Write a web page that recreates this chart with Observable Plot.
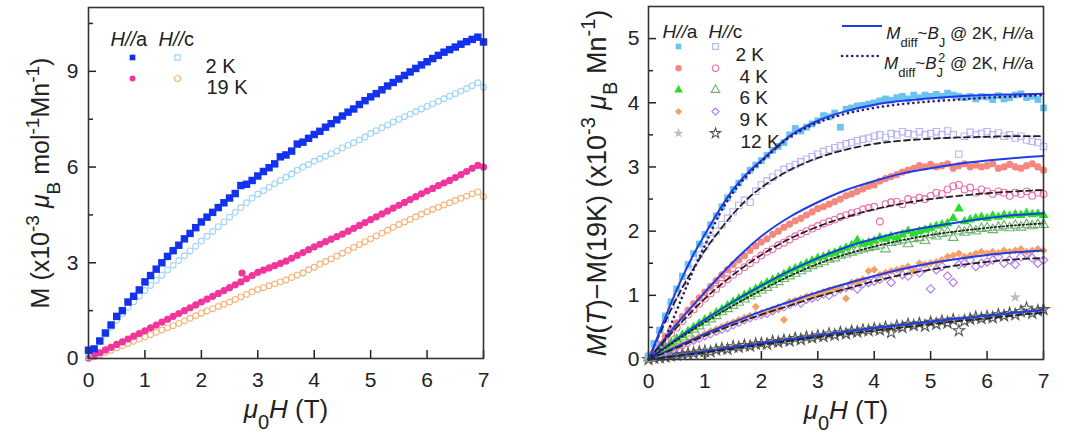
<!DOCTYPE html>
<html><head><meta charset="utf-8">
<script src="https://cdn.jsdelivr.net/npm/d3@7"></script>
<script src="https://cdn.jsdelivr.net/npm/@observablehq/plot@0.6"></script>
<style>
html,body{margin:0;padding:0;background:#fff;}
#wrap{display:flex;width:1080px;height:440px;overflow:hidden;}
svg{font-family:"Liberation Sans",Arial,Helvetica,sans-serif;}
</style></head><body><div id="wrap"></div>
<script>
const FONT = '"Liberation Sans", Arial, Helvetica, sans-serif';

// ---- shared field grids (T) ----
const fieldGrid = [0,0.1,0.2,0.3,0.4,0.5,0.6,0.7,0.8,0.9,
  1,1.1,1.2,1.3,1.4,1.5,1.6,1.7,1.8,1.9,
  2,2.1,2.2,2.3,2.4,2.5,2.6,2.7,2.8,2.9,
  3,3.1,3.2,3.3,3.4,3.5,3.6,3.7,3.8,3.9,
  4,4.1,4.2,4.3,4.4,4.5,4.6,4.7,4.8,4.9,
  5,5.1,5.2,5.3,5.4,5.5,5.6,5.7,5.8,5.9,
  6,6.1,6.2,6.3,6.4,6.5,6.6,6.7,6.8,6.9,
  7];
const fitGrid = [0,0.5,1,1.5,2,2.5,3,3.5,4,4.5,5,5.5,6,6.5,7];
const fitGridFine = [0,0.2,0.4,0.6,0.8,1,1.25,1.5,1.75,2,2.5,3,3.5,4,4.5,5,5.5,6,6.5,7];

// ---- tick values ----
const xTicks = [0,1,2,3,4,5,6,7];
const leftYTicks = [0,3,6,9];
const leftYMinor = [1.5,4.5,7.5,10.5];
const rightYTicks = [0,1,2,3,4,5];
const rightYMinor = [0.5,1.5,2.5,3.5,4.5];

// ---- left panel: M (x10^-3 muB mol^-1 Mn^-1) ----
const mA2K = [0.26,0.3,0.55,0.8,1.05,1.32,1.5,1.77,1.95,2.15,
  2.4,2.6,2.8,3.0,3.2,3.38,3.55,3.75,3.92,4.1,
  4.28,4.43,4.58,4.73,4.88,5.03,5.17,5.42,5.46,5.58,
  5.72,5.86,5.98,6.1,6.32,6.38,6.5,6.72,6.78,6.9,
  7.02,7.12,7.25,7.36,7.48,7.6,7.72,7.82,7.96,8.08,
  8.2,8.3,8.42,8.54,8.65,8.76,8.87,8.98,9.09,9.2,
  9.3,9.4,9.5,9.6,9.68,9.76,9.85,9.93,10.0,10.07,
  9.92];
const mC2K = [0.05,0.28,0.52,0.76,0.98,1.2,1.4,1.6,1.78,1.96,
  2.13,2.29,2.45,2.61,2.77,2.92,3.07,3.22,3.37,3.52,
  3.68,3.83,3.98,4.13,4.28,4.43,4.58,4.73,4.88,5.02,
  5.15,5.26,5.37,5.48,5.58,5.68,5.78,5.9,6.0,6.08,
  6.18,6.26,6.34,6.42,6.5,6.6,6.68,6.76,6.85,6.94,
  7.05,7.14,7.23,7.32,7.41,7.5,7.58,7.66,7.74,7.82,
  7.9,7.98,8.06,8.14,8.22,8.3,8.38,8.46,8.55,8.64,
  8.5];
const mA19K = [0.02,0.1,0.18,0.27,0.35,0.44,0.52,0.61,0.7,0.78,
  0.87,0.96,1.05,1.14,1.23,1.32,1.41,1.5,1.59,1.68,
  1.77,1.86,1.95,2.04,2.13,2.22,2.31,2.4,2.5,2.6,
  2.7,2.77,2.84,2.91,2.98,3.05,3.14,3.23,3.32,3.41,
  3.5,3.58,3.66,3.74,3.82,3.9,3.99,4.08,4.17,4.26,
  4.35,4.44,4.53,4.62,4.71,4.8,4.89,4.98,5.07,5.16,
  5.25,5.33,5.42,5.5,5.58,5.67,5.76,5.86,5.96,6.05,
  6.0];
const mA19KExtraX = [2.72];
const mA19KExtraY = [2.68];
const mC19K = [0.0,0.05,0.12,0.19,0.26,0.33,0.4,0.47,0.54,0.61,
  0.68,0.75,0.82,0.89,0.96,1.03,1.1,1.18,1.26,1.34,
  1.42,1.49,1.56,1.63,1.7,1.77,1.85,1.93,2.01,2.09,
  2.16,2.22,2.28,2.34,2.4,2.46,2.54,2.61,2.68,2.78,
  2.86,2.96,3.04,3.12,3.21,3.3,3.39,3.48,3.57,3.66,
  3.75,3.84,3.93,4.02,4.11,4.2,4.28,4.36,4.44,4.52,
  4.6,4.67,4.74,4.81,4.88,4.95,5.02,5.09,5.16,5.22,
  5.07];

// ---- right panel: M(T) - M(19K) ----
const d2a = [0.05,0.25,0.46,0.68,0.9,1.1,1.3,1.48,1.65,1.8,
  1.95,2.1,2.24,2.38,2.52,2.65,2.75,2.85,2.95,3.03,
  3.1,3.18,3.26,3.32,3.38,3.5,3.6,3.56,3.62,3.67,
  3.72,3.8,3.78,3.84,3.62,3.9,3.92,3.95,3.96,3.98,
  4.0,4.03,4.06,4.04,4.08,4.1,4.06,4.12,4.08,4.12,
  4.1,4.13,4.1,4.15,4.12,4.1,4.08,4.1,4.06,4.1,
  4.09,4.05,4.11,4.06,4.08,4.12,4.14,4.08,4.1,4.05,
  3.92];
const d2c = [0.05,0.24,0.45,0.64,0.84,1.02,1.2,1.36,1.5,1.63,
  1.76,1.88,2.0,2.1,2.2,2.3,2.4,2.48,2.45,2.62,
  2.72,2.78,2.84,2.9,2.96,3.0,3.04,3.08,3.12,3.16,
  3.2,3.24,3.27,3.3,3.33,3.36,3.38,3.41,3.43,3.45,
  3.48,3.5,3.46,3.52,3.5,3.55,3.52,3.5,3.55,3.5,
  3.52,3.55,3.5,3.56,3.5,3.2,3.48,3.54,3.5,3.52,
  3.55,3.5,3.53,3.48,3.5,3.45,3.48,3.42,3.4,3.38,
  3.32];
const d4a = [0.03,0.12,0.24,0.36,0.47,0.57,0.67,0.77,0.87,0.96,
  1.05,1.14,1.23,1.32,1.4,1.48,1.55,1.62,1.7,1.77,
  1.83,1.88,1.95,2.0,2.06,2.11,2.16,2.2,2.25,2.3,
  2.35,2.38,2.42,2.46,2.5,2.55,2.58,2.62,2.66,2.7,
  2.72,2.78,2.82,2.85,2.88,2.92,2.95,2.98,3.02,3.0,
  3.04,3.0,3.02,3.05,2.98,3.02,3.05,3.0,3.03,3.0,
  3.02,3.05,2.98,3.0,3.04,3.0,2.98,3.02,3.05,3.0,
  2.95];
const d4c = [0.03,0.1,0.2,0.3,0.4,0.5,0.6,0.7,0.78,0.87,
  0.95,1.03,1.1,1.18,1.25,1.32,1.38,1.44,1.5,1.56,
  1.62,1.68,1.72,1.78,1.82,1.87,1.92,1.96,2.0,2.04,
  2.08,2.12,2.15,2.18,2.22,2.25,2.28,2.3,2.34,2.36,
  2.38,2.15,2.42,2.45,2.46,2.42,2.5,2.48,2.52,2.5,
  2.55,2.6,2.58,2.65,2.7,2.72,2.65,2.68,2.6,2.65,
  2.62,2.58,2.62,2.6,2.55,2.6,2.58,2.62,2.55,2.6,
  2.58];
const d6a = [0.02,0.07,0.13,0.2,0.26,0.32,0.38,0.44,0.5,0.56,
  0.62,0.67,0.73,0.78,0.84,0.9,0.95,1.0,1.05,1.1,
  1.15,1.2,1.24,1.28,1.33,1.38,1.42,1.46,1.5,1.54,
  1.58,1.6,1.64,1.66,1.7,1.74,1.78,1.86,1.8,1.82,
  1.85,1.9,1.88,1.92,1.9,1.95,2.0,1.96,2.0,2.02,
  2.05,2.08,2.1,2.12,2.2,2.35,2.15,2.18,2.2,2.22,
  2.2,2.24,2.22,2.25,2.24,2.26,2.25,2.28,2.26,2.27,
  2.25];
const d6c = [0.02,0.06,0.12,0.18,0.24,0.3,0.36,0.41,0.47,0.52,
  0.58,0.63,0.68,0.74,0.79,0.84,0.89,0.94,0.99,1.03,
  1.08,1.12,1.17,1.21,1.26,1.3,1.34,1.38,1.42,1.46,
  1.49,1.52,1.56,1.58,1.62,1.64,1.67,1.7,1.72,1.74,
  1.76,1.78,1.72,1.82,1.84,1.86,1.8,1.88,1.9,1.85,
  1.94,1.92,1.96,1.98,1.9,2.0,1.98,2.02,2.0,2.04,
  2.05,2.02,2.06,2.08,2.05,2.09,2.06,2.1,2.08,2.1,
  2.1];
const d9a = [0.02,0.05,0.09,0.13,0.17,0.2,0.24,0.28,0.32,0.36,
  0.4,0.44,0.47,0.51,0.55,0.58,0.62,0.65,0.68,0.82,
  0.72,0.75,0.78,0.8,0.62,0.9,0.92,0.95,0.98,1.0,
  1.02,1.05,1.08,1.1,1.12,0.95,1.2,1.22,1.25,1.38,
  1.4,1.32,1.35,1.38,1.4,1.42,1.45,1.38,1.5,1.48,
  1.5,1.52,1.55,1.6,1.62,1.65,1.6,1.62,1.65,1.68,
  1.65,1.68,1.66,1.7,1.68,1.7,1.72,1.68,1.7,1.72,
  1.7];
const d9c = [0.02,0.05,0.08,0.12,0.15,0.19,0.22,0.26,0.3,0.33,
  0.37,0.4,0.44,0.47,0.5,0.54,0.58,0.62,0.65,0.68,
  0.7,0.72,0.76,0.8,0.82,0.86,0.9,0.88,0.94,0.96,
  0.98,1.02,1.0,1.05,1.1,1.12,1.15,1.1,1.18,1.2,
  1.22,1.25,1.3,1.2,1.35,1.32,1.3,1.4,1.35,1.42,
  1.1,1.4,1.45,1.3,1.2,1.48,1.5,1.55,1.45,1.5,
  1.52,1.55,1.6,1.5,1.55,1.48,1.6,1.65,1.58,1.5,
  1.55];
const d12a = [0.0,0.01,0.03,0.04,0.04,0.06,0.08,0.09,0.09,0.11,
  0.12,0.14,0.14,0.16,0.18,0.18,0.2,0.22,0.21,0.24,
  0.25,0.26,0.28,0.27,0.3,0.31,0.32,0.34,0.33,0.36,
  0.37,0.38,0.37,0.41,0.42,0.41,0.44,0.45,0.44,0.47,
  0.48,0.5,0.49,0.52,0.51,0.54,0.55,0.53,0.57,0.56,
  0.58,0.6,0.59,0.62,0.6,0.63,0.65,0.63,0.66,0.67,
  0.66,0.69,0.68,0.71,0.7,0.97,0.72,0.74,0.73,0.76,
  0.78];
const d12c = [0.0,0.02,0.03,0.04,0.06,0.07,0.08,0.09,0.1,0.12,
  0.13,0.12,0.15,0.17,0.16,0.2,0.19,0.22,0.21,0.24,
  0.25,0.24,0.28,0.27,0.3,0.29,0.33,0.31,0.35,0.34,
  0.37,0.36,0.4,0.38,0.42,0.4,0.44,0.43,0.46,0.45,
  0.48,0.46,0.5,0.42,0.52,0.5,0.55,0.53,0.56,0.52,
  0.58,0.55,0.6,0.57,0.62,0.45,0.6,0.63,0.66,0.64,
  0.67,0.65,0.7,0.68,0.72,0.7,0.75,0.8,0.72,0.76,
  0.78];

// ---- fits ----
const fit2aBJ  = [0,0.44,0.88,1.28,1.64,1.95,2.32,2.65,2.9,3.1,3.48,3.72,3.87,3.97,4.03,4.07,4.1,4.12,4.13,4.14];
const fit2aBJ2 = [0,0.15,0.55,0.98,1.4,1.78,2.25,2.6,2.87,3.08,3.46,3.69,3.83,3.92,3.98,4.02,4.05,4.08,4.1,4.12];
const fit2c    = [0,0.4,0.78,1.12,1.42,1.7,2.0,2.27,2.5,2.68,2.95,3.14,3.27,3.36,3.41,3.44,3.46,3.47,3.48,3.48];
const fit4a  = [0,0.55,1.05,1.52,1.92,2.22,2.45,2.64,2.78,2.9,2.98,3.05,3.1,3.14,3.17];
const fit4c  = [0,0.5,0.95,1.32,1.63,1.88,2.07,2.22,2.34,2.43,2.5,2.55,2.59,2.62,2.64];
const fit6a  = [0,0.32,0.62,0.9,1.15,1.38,1.58,1.75,1.88,1.99,2.07,2.14,2.2,2.25,2.28];
const fit6c  = [0,0.3,0.58,0.84,1.08,1.3,1.49,1.64,1.76,1.86,1.94,2.0,2.05,2.09,2.12];
const fit9a  = [0,0.2,0.4,0.58,0.75,0.9,1.05,1.18,1.3,1.41,1.5,1.57,1.63,1.67,1.7];
const fit9c  = [0,0.18,0.37,0.54,0.7,0.84,0.98,1.1,1.22,1.32,1.4,1.47,1.52,1.56,1.58];
const fit12a = [0,0.06,0.12,0.19,0.25,0.31,0.37,0.43,0.49,0.54,0.59,0.64,0.68,0.73,0.77];
const fit12c = [0,0.055,0.11,0.17,0.23,0.29,0.35,0.4,0.45,0.5,0.55,0.6,0.64,0.69,0.73];

// ---- legend labels ----
const legendHeads = ["H//a", "H//c"];
const leftLegendTemps = ["2 K", "19 K"];
const rightLegendTemps = ["2 K", "4 K", "6 K", "9 K", "12 K"];
const fitLegend = ["Mdiff~BJ @ 2K, H//a", "Mdiff~BJ2 @ 2K, H//a"];

const zip = (xs, ys) => ys.map((y, i) => ({x: xs[i], y}));
const intFmt = d3.format("d");
const axisStyle = {strokeWidth: 1.5, fontSize: 21, label: null};

// ================= LEFT PANEL =================
const lc = {a2: "#1232ee", c2: "#9fd4f7", a19: "#f0359c", c19: "#f6b47c"};
const left = Plot.plot({
  width: 540, height: 440,
  marginLeft: 88, marginRight: 57, marginTop: 7, marginBottom: 82,
  style: {fontFamily: FONT, fontSize: "21px", color: "#222", background: "#fff", overflow: "visible"},
  x: {domain: [0, 7], label: null},
  y: {domain: [0, 11], label: null},
  marks: [
    Plot.axisX(xTicks, {...axisStyle, tickSize: -8, tickPadding: 22, tickFormat: intFmt}),
    Plot.axisY(leftYTicks, {...axisStyle, tickSize: -8, tickPadding: 18, tickFormat: intFmt}),
    Plot.axisY(leftYMinor, {...axisStyle, tickSize: -5, tickFormat: () => ""}),
    Plot.dot(zip(fieldGrid, mC19K), {x: "x", y: "y", symbol: "circle", stroke: lc.c19, strokeWidth: 1.1, r: 2.9}),
    Plot.dot(zip(fieldGrid, mA19K), {x: "x", y: "y", symbol: "circle", fill: lc.a19, r: 3.6}),
    Plot.dot(zip(mA19KExtraX, mA19KExtraY), {x: "x", y: "y", symbol: "circle", fill: lc.a19, r: 3.6}),
    Plot.dot(zip(fieldGrid, mC2K), {x: "x", y: "y", symbol: "circle", stroke: lc.c2, strokeWidth: 1.1, r: 2.9}),
    Plot.dot(zip(fieldGrid, mA2K), {x: "x", y: "y", symbol: "square", fill: lc.a2, r: 4.2}),
    Plot.frame({stroke: "#333", strokeWidth: 1.6}),
    // legend
    Plot.text([legendHeads[0]], {frameAnchor: "top-left", dx: 22, dy: 24, textAnchor: "start", fontSize: 20, fill: "#222", text: d => d}),
    Plot.text([legendHeads[1]], {frameAnchor: "top-left", dx: 70, dy: 24, textAnchor: "start", fontSize: 20, fill: "#222", text: d => d}),
    Plot.dot([0], {frameAnchor: "top-left", dx: 44, dy: 50, symbol: "square", fill: lc.a2, r: 3.2}),
    Plot.dot([0], {frameAnchor: "top-left", dx: 89, dy: 50, symbol: "square", stroke: lc.c2, strokeWidth: 1.2, r: 3}),
    Plot.dot([0], {frameAnchor: "top-left", dx: 44, dy: 71, symbol: "circle", fill: lc.a19, r: 3}),
    Plot.dot([0], {frameAnchor: "top-left", dx: 89, dy: 71, symbol: "circle", stroke: lc.c19, strokeWidth: 1.2, r: 3}),
    Plot.text([leftLegendTemps[0]], {frameAnchor: "top-left", dx: 117, dy: 51, textAnchor: "start", fontSize: 20, fill: "#222", text: d => d}),
    Plot.text([leftLegendTemps[1]], {frameAnchor: "top-left", dx: 118, dy: 72, textAnchor: "start", fontSize: 20, fill: "#222", text: d => d}),
    // axis titles
    Plot.text(["M (x10-3 μB mol-1Mn-1)"], {frameAnchor: "left", dx: -48, rotate: -90, textAnchor: "middle", fontSize: 25, fill: "#222", text: d => d}),
    Plot.text(["μ0H (T)"], {frameAnchor: "bottom", dy: 59, textAnchor: "middle", fontSize: 26, fill: "#222", text: d => d})
  ]
});

// ================= RIGHT PANEL =================
const rc = {
  a2: "#6cc3f1", c2: "#b7b6f2", a4: "#f4877e", c4: "#ef6aa8",
  a6: "#24e024", c6: "#6db56d", a9: "#f7a066", c9: "#b277f0",
  a12: "#bdbdbd", c12: "#555555", fitA: "#1d3ee6", fitSq: "#3a1870", fitC: "#222222"
};
const dataMark = (ys, symbol, color, filled, r) =>
  Plot.dot(zip(fieldGrid, ys), filled
    ? {x: "x", y: "y", symbol, fill: color, r}
    : {x: "x", y: "y", symbol, stroke: color, strokeWidth: 1.1, r});
const fitLine = (xs, ys, style) => Plot.line(zip(xs, ys), {x: "x", y: "y", curve: "monotone-x", ...style});
const solid = {stroke: rc.fitA, strokeWidth: 2};
const dashed = {stroke: rc.fitC, strokeWidth: 1.8, strokeDasharray: "6,4"};
const dottedBlack = {stroke: rc.fitC, strokeWidth: 1.8, strokeDasharray: "1.5,2.5"};
const dottedPurple = {stroke: rc.fitSq, strokeWidth: 2.6, strokeDasharray: "0.1,5", strokeLinecap: "round"};

const legendRows = [
  {sa: "square", ca: rc.a2, sc: "square", cc: rc.c2},
  {sa: "circle", ca: rc.a4, sc: "circle", cc: rc.c4},
  {sa: "triangle", ca: rc.a6, sc: "triangle", cc: rc.c6},
  {sa: "diamond2", ca: rc.a9, sc: "diamond2", cc: rc.c9},
  {sa: "star", ca: rc.a12, sc: "star", cc: rc.c12}
];
const rightLegendMarks = [];
legendRows.forEach((row, i) => {
  const dy = 40 + i * 21.7;
  rightLegendMarks.push(Plot.dot([0], {frameAnchor: "top-left", dx: 30, dy, symbol: row.sa, fill: row.ca, r: 3.2}));
  rightLegendMarks.push(Plot.dot([0], {frameAnchor: "top-left", dx: 67, dy, symbol: row.sc, stroke: row.cc, strokeWidth: 1.1, r: 3.2}));
  rightLegendMarks.push(Plot.text([rightLegendTemps[i]], {frameAnchor: "top-left", dx: i === 0 ? 87 : (i === 4 ? 92 : 91), dy: dy + 1, textAnchor: "start", fontSize: 19, fill: "#222", text: d => d}));
});

const right = Plot.plot({
  width: 540, height: 440,
  marginLeft: 108, marginRight: 37, marginTop: 6, marginBottom: 81,
  style: {fontFamily: FONT, fontSize: "21px", color: "#222", background: "#fff", overflow: "visible"},
  x: {domain: [0, 7], label: null},
  y: {domain: [0, 5.5], label: null},
  marks: [
    Plot.axisX(xTicks, {...axisStyle, tickSize: -8, tickPadding: 22, tickFormat: intFmt}),
    Plot.axisY(rightYTicks, {...axisStyle, tickSize: -8, tickPadding: 17, tickFormat: intFmt}),
    Plot.axisY(rightYMinor, {...axisStyle, tickSize: -5, tickFormat: () => ""}),
    dataMark(d12a, "star", rc.a12, true, 3.6),
    dataMark(d12c, "star", rc.c12, false, 3.6),
    dataMark(d9c, "diamond2", rc.c9, false, 3.8),
    dataMark(d9a, "diamond2", rc.a9, true, 3.6),
    dataMark(d6c, "triangle", rc.c6, false, 3.6),
    dataMark(d6a, "triangle", rc.a6, true, 3.6),
    dataMark(d4c, "circle", rc.c4, false, 3.4),
    dataMark(d4a, "circle", rc.a4, true, 3.6),
    dataMark(d2c, "square", rc.c2, false, 3.6),
    dataMark(d2a, "square", rc.a2, true, 3.8),
    fitLine(fitGrid, fit12a, solid),
    fitLine(fitGrid, fit12c, dashed),
    fitLine(fitGrid, fit9a, solid),
    fitLine(fitGrid, fit9c, dashed),
    fitLine(fitGrid, fit6a, solid),
    fitLine(fitGrid, fit6c, dottedBlack),
    fitLine(fitGrid, fit4a, solid),
    fitLine(fitGrid, fit4c, dashed),
    fitLine(fitGridFine, fit2c, dashed),
    fitLine(fitGridFine, fit2aBJ, solid),
    fitLine(fitGridFine, fit2aBJ2, dottedPurple),
    Plot.frame({stroke: "#333", strokeWidth: 1.6}),
    Plot.text([legendHeads[0]], {frameAnchor: "top-left", dx: 14, dy: 18, textAnchor: "start", fontSize: 19, fill: "#222", text: d => d}),
    Plot.text([legendHeads[1]], {frameAnchor: "top-left", dx: 60, dy: 18, textAnchor: "start", fontSize: 19, fill: "#222", text: d => d}),
    ...rightLegendMarks,
    Plot.text([fitLegend[0]], {frameAnchor: "top-right", dx: -10, dy: 20, textAnchor: "end", fontSize: 17, fill: "#222", text: d => d}),
    Plot.text([fitLegend[1]], {frameAnchor: "top-right", dx: -10, dy: 50, textAnchor: "end", fontSize: 17, fill: "#222", text: d => d}),
    Plot.text(["M(T)−M(19K) (x10-3 μB Mn-1)"], {frameAnchor: "left", dx: -51, rotate: -90, textAnchor: "middle", fontSize: 27, fill: "#222", text: d => d}),
    Plot.text(["μ0H (T)"], {frameAnchor: "bottom", dy: 59, textAnchor: "middle", fontSize: 26, fill: "#222", text: d => d})
  ]
});

document.getElementById("wrap").append(left, right);

// ---- rich text (italics, sub/superscripts) ----
function setRich(svg, key, parts, size) {
  d3.select(svg).selectAll("text").filter(function () { return this.textContent === key; }).each(function () {
    const t = d3.select(this);
    t.text(null);
    for (const p of parts) {
      const s = t.append("tspan").text(p.t);
      if (p.i) s.attr("font-style", "italic");
      if (p.sub) s.attr("baseline-shift", "sub").attr("font-size", Math.round(size * 0.75));
      if (p.sup) s.attr("baseline-shift", "super").attr("font-size", Math.round(size * 0.75));
      if (p.dx) s.attr("dx", p.dx);
    }
  });
}
for (const svg of [left, right]) {
  setRich(svg, "H//a", [{t: "H//", i: 1}, {t: "a"}], 20);
  setRich(svg, "H//c", [{t: "H//", i: 1}, {t: "c"}], 20);
  setRich(svg, "μ0H (T)", [{t: "μ", i: 1}, {t: "0", sub: 1}, {t: "H", i: 1}, {t: " (T)"}], 26);
}
setRich(left, "M (x10-3 μB mol-1Mn-1)", [{t: "M (x10"}, {t: "-3", sup: 1}, {t: " "}, {t: "μ", i: 1}, {t: "B", sub: 1}, {t: " mol"}, {t: "-1", sup: 1}, {t: "Mn"}, {t: "-1", sup: 1}, {t: ")"}], 25);
setRich(right, "M(T)−M(19K) (x10-3 μB Mn-1)", [{t: "M", i: 1}, {t: "("}, {t: "T", i: 1}, {t: ")−M(19K) (x10"}, {t: "-3", sup: 1}, {t: " "}, {t: "μ", i: 1}, {t: "B", sub: 1}, {t: " Mn"}, {t: "-1", sup: 1}, {t: ")"}], 27);
setRich(right, fitLegend[0], [{t: "M", i: 1}, {t: "diff", sub: 1}, {t: "~"}, {t: "B", i: 1}, {t: "J", sub: 1}, {t: " @ 2K, "}, {t: "H//", i: 1}, {t: "a"}], 17);
setRich(right, fitLegend[1], [{t: "M", i: 1}, {t: "diff", sub: 1}, {t: "~"}, {t: "B", i: 1}, {t: "J", sub: 1}, {t: "2", sup: 1, dx: -5}, {t: " @ 2K, "}, {t: "H//", i: 1}, {t: "a"}], 17);

// legend line samples (right panel)
const rs = d3.select(right);
const lineX1 = 540 - 37 - 201, lineX2 = lineX1 + 40;
rs.append("line").attr("x1", lineX1).attr("x2", lineX2).attr("y1", 6 + 20).attr("y2", 6 + 20)
  .attr("stroke", rc.fitA).attr("stroke-width", 2);
rs.append("line").attr("x1", lineX1).attr("x2", lineX2).attr("y1", 6 + 50).attr("y2", 6 + 50)
  .attr("stroke", rc.fitSq).attr("stroke-width", 2.6).attr("stroke-dasharray", "0.1,5").attr("stroke-linecap", "round");
</script>
</body></html>
